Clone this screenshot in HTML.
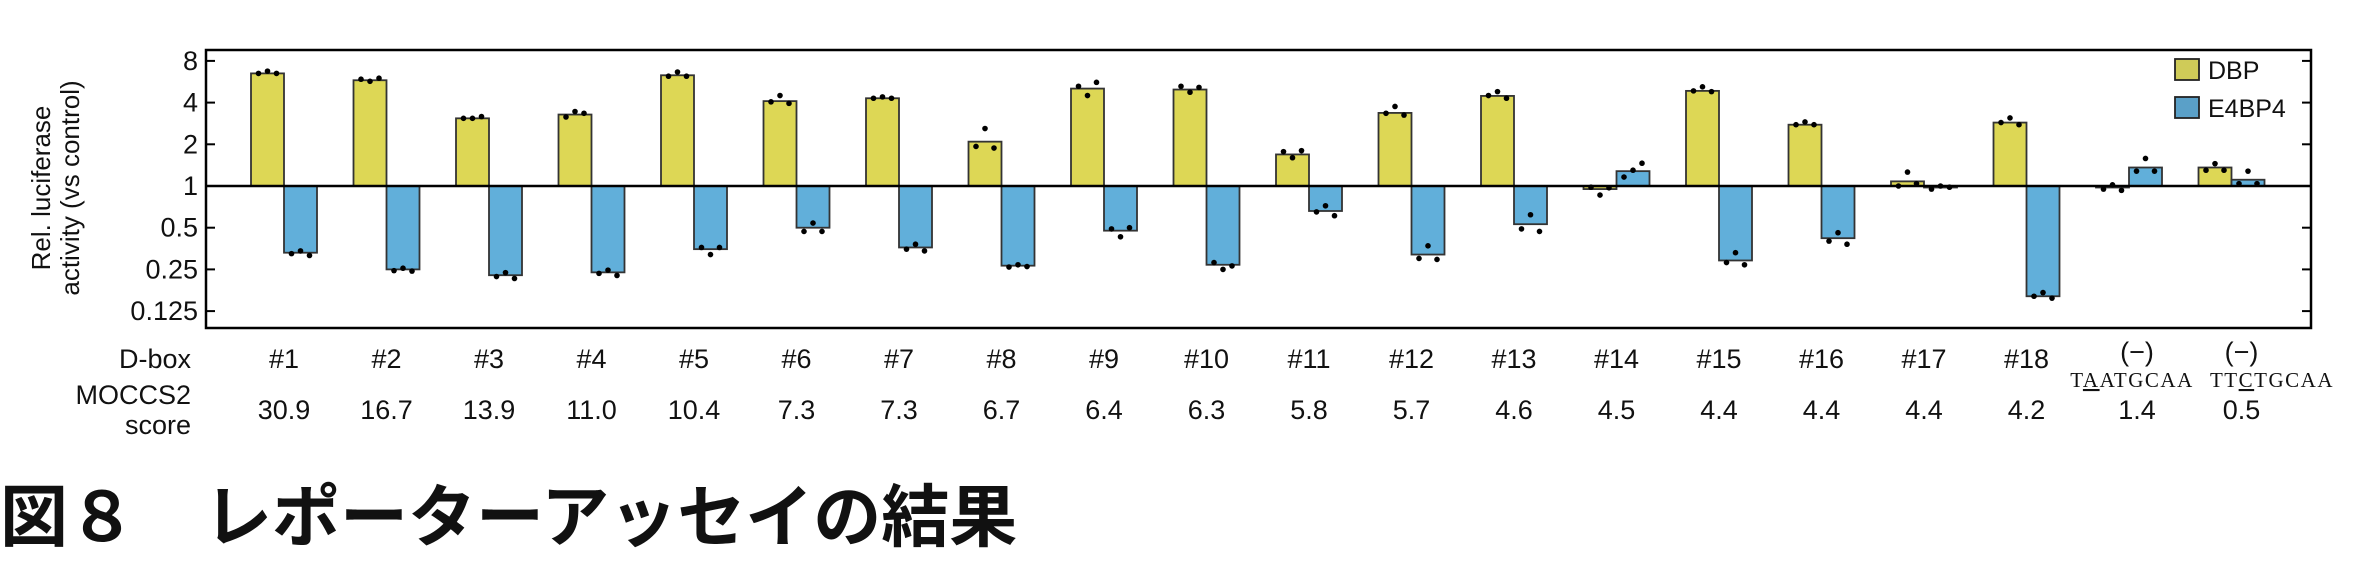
<!DOCTYPE html>
<html><head><meta charset="utf-8"><style>
body{margin:0;background:#fff;width:2360px;height:567px;overflow:hidden}
svg{display:block}
text{font-family:"Liberation Sans",sans-serif;fill:#111}
text.seq{font-family:"Liberation Serif",serif;letter-spacing:1.5px}
text.title{font-family:"Liberation Sans","Noto Sans CJK JP",sans-serif}
</style></head><body>
<svg id="chart" width="2360" height="567" viewBox="0 0 2360 567"></svg>
<script>
const categories=["#1","#2","#3","#4","#5","#6","#7","#8","#9","#10","#11","#12","#13","#14","#15","#16","#17","#18","(−)","(−)"];
const scores=["30.9","16.7","13.9","11.0","10.4","7.3","7.3","6.7","6.4","6.3","5.8","5.7","4.6","4.5","4.4","4.4","4.4","4.2","1.4","0.5"];
const dbpValues=[6.5,5.8,3.08,3.28,6.3,4.1,4.3,2.09,5.05,4.97,1.69,3.37,4.47,0.95,4.86,2.77,1.08,2.87,0.98,1.36];
const e4bp4Values=[0.33,0.25,0.227,0.238,0.35,0.5,0.36,0.266,0.476,0.27,0.66,0.32,0.53,1.28,0.29,0.42,0.98,0.16,1.36,1.11];
const dbpReps=[[6.5,6.75,6.5],[5.9,5.7,6.0],[3.08,3.08,3.17],[3.15,3.45,3.35],[6.2,6.65,6.2],[4.05,4.5,3.95],[4.3,4.4,4.3],[1.93,2.6,1.88],[5.25,4.5,5.6],[5.25,4.75,5.15],[1.77,1.6,1.8],[3.35,3.75,3.25],[4.5,4.8,4.3],[0.98,0.86,0.97],[4.86,5.2,4.8],[2.77,2.9,2.77],[1.0,1.26,1.04],[2.87,3.1,2.77],[0.95,1.02,0.93],[1.3,1.45,1.3]];
const e4bp4Reps=[[0.325,0.34,0.315],[0.245,0.255,0.243],[0.222,0.237,0.215],[0.234,0.247,0.226],[0.36,0.32,0.36],[0.47,0.54,0.47],[0.35,0.38,0.34],[0.26,0.27,0.262],[0.49,0.43,0.5],[0.28,0.25,0.265],[0.65,0.72,0.61],[0.3,0.37,0.295],[0.49,0.62,0.47],[1.16,1.3,1.46],[0.28,0.33,0.27],[0.4,0.46,0.38],[0.95,1.0,0.98],[0.16,0.17,0.155],[1.28,1.58,1.28],[1.04,1.28,1.04]];
const yTicks=[8,4,2,1,0.5,0.25,0.125];
const yTickLabels=["8","4","2","1","0.5","0.25","0.125"];

const NS="http://www.w3.org/2000/svg";
const svg=document.getElementById('chart');
function mk(tag,attrs,parent){const e=document.createElementNS(NS,tag);for(const k in attrs)e.setAttribute(k,attrs[k]);(parent||svg).appendChild(e);return e;}
const L=206,R=2311,T=50,B=328,Y1=186,PX=41.7;
const y=v=>Y1-PX*Math.log2(v);
const gx=i=>251+i*102.5;
const BW=33;

const frame=mk('rect',{x:L,y:T,width:R-L,height:B-T,fill:'none',stroke:'#000','stroke-width':2.5});



yTicks.forEach((t,i)=>{
  const ty=y(t);
  const tk=mk('line',{x1:L,x2:L+9,y1:ty,y2:ty,stroke:'#000','stroke-width':2});
  
  
  const tr=mk('line',{x1:R-9,x2:R,y1:ty,y2:ty,stroke:'#000','stroke-width':2});
  
  
  const lb=mk('text',{x:L-8,y:ty+9,'text-anchor':'end','font-size':27});
  lb.textContent=yTickLabels[i];
  
  
});

const yt=mk('text',{transform:'translate(50,188) rotate(-90)','text-anchor':'middle','font-size':26});
yt.textContent='Rel. luciferase';


const yt2=mk('text',{transform:'translate(79,188) rotate(-90)','text-anchor':'middle','font-size':26});
yt2.textContent='activity (vs control)';



function bar(x,v,fill,name){
  const y0=Y1,y2=y(v);
  const r=mk('rect',{x:x,y:Math.min(y0,y2),width:BW,height:Math.max(1.5,Math.abs(y2-y0)),fill:fill,stroke:'#333','stroke-width':1.8});
  
  
}
function dots(x,reps,name){
  reps.forEach((v,k)=>{
    const c=mk('circle',{cx:x+BW/2+(k-1)*9,cy:y(v),r:2.8,fill:'#000'});
    
    
  });
}
categories.forEach((c,i)=>{
  const x=gx(i);
  bar(x,dbpValues[i],'#ddd755','bar-dbp');
  bar(x+BW,e4bp4Values[i],'#61afda','bar-e4bp4');
});
const base=mk('line',{x1:L,x2:R,y1:Y1,y2:Y1,stroke:'#000','stroke-width':2.5});


categories.forEach((c,i)=>{
  const x=gx(i);
  dots(x,dbpReps[i],'dot-dbp');
  dots(x+BW,e4bp4Reps[i],'dot-e4bp4');
  const cx=x+BW+(i===18?8:i===19?10:0);
  const lb=mk('text',{x:cx,y:i>=18?361:368,'text-anchor':'middle','font-size':27});
  lb.textContent=c;
  
  
  const sc=mk('text',{x:cx,y:419,'text-anchor':'middle','font-size':27});
  sc.textContent=scores[i];
  
  
});
// sequences
[["T","A","ATGCAA",2132],["TT","C","TGCAA",2272]].forEach(s=>{
  const t=mk('text',{x:s[3],y:387,'text-anchor':'middle','font-size':21,'class':'seq'});
  
  
  const a=mk('tspan',{},t);a.textContent=s[0];
  const b=mk('tspan',{'text-decoration':'underline'},t);b.textContent=s[1];
  const d=mk('tspan',{},t);d.textContent=s[2];
});
const db=mk('text',{x:191,y:368,'text-anchor':'end','font-size':27});
db.textContent='D-box';


const m1=mk('text',{x:191,y:404,'text-anchor':'end','font-size':27});
m1.textContent='MOCCS2';


const m2=mk('text',{x:191,y:434,'text-anchor':'end','font-size':27});
m2.textContent='score';


// legend
const lg=mk('g',{});


[["DBP","#cfcb58",59],["E4BP4","#5aa0c8",97]].forEach(e=>{
  const r=mk('rect',{x:2175,y:e[2],width:24,height:21,fill:e[1],stroke:'#222','stroke-width':1.8},lg);
  
  
  const t=mk('text',{x:2208,y:e[2]+20,'font-size':25},lg);
  t.textContent=e[0];
  
  
});
const title=mk('text',{x:0,y:541,'font-size':68,'font-weight':'bold','class':'title'});
title.textContent='図８　レポーターアッセイの結果';


</script>
</body></html>
